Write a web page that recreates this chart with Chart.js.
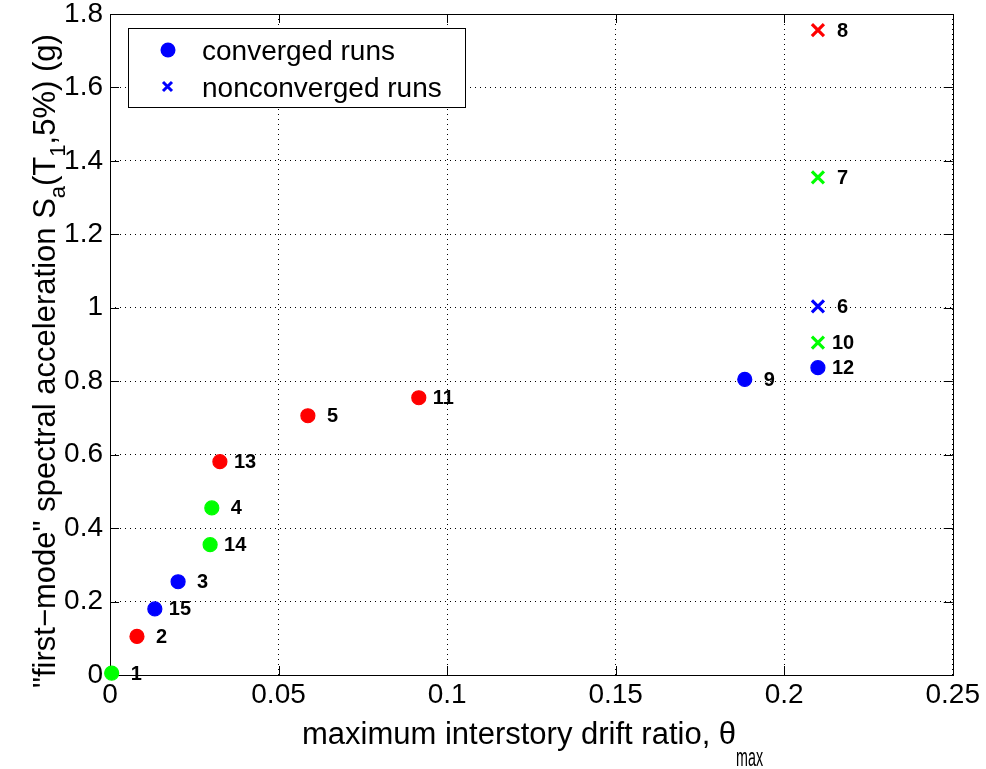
<!DOCTYPE html>
<html>
<head>
<meta charset="utf-8">
<script src="https://cdn.jsdelivr.net/npm/chart.js@4"></script>
<style>
  body { margin: 0; background: #fff; }
  #wrap { width: 986px; height: 769px; position: relative; }
</style>
</head>
<body>
<div id="wrap"><canvas id="c"></canvas></div>
<script>
// run data
const runIds    = [1, 2, 15, 3, 14, 4, 13, 5, 11, 9, 12, 10, 6, 7, 8];
const drift     = [0.0005, 0.008, 0.0133, 0.0202, 0.0297, 0.0302, 0.0326, 0.0587, 0.0916, 0.1883, 0.21, 0.21, 0.21, 0.21, 0.21];
const sa        = [0.005, 0.105, 0.18, 0.254, 0.355, 0.455, 0.581, 0.706, 0.755, 0.805, 0.837, 0.905, 1.004, 1.355, 1.756];
const group     = ["g", "r", "b", "b", "g", "g", "r", "r", "r", "b", "b", "g", "b", "g", "r"];
const converged = [true, true, true, true, true, true, true, true, true, true, true, false, false, false, false];

const xTicks = [0, 0.05, 0.1, 0.15, 0.2, 0.25];
const yTicks = [0, 0.2, 0.4, 0.6, 0.8, 1, 1.2, 1.4, 1.6, 1.8];

const colors = { r: "#ff0000", g: "#00ff00", b: "#0000ff" };
const FONT = "'Liberation Sans', Arial, Helvetica, sans-serif";

// one dataset per colour / marker combination
const datasets = [];
["b", "r", "g"].forEach(g => {
  [true, false].forEach(conv => {
    const pts = [];
    runIds.forEach((id, i) => {
      if (group[i] === g && converged[i] === conv) pts.push({ x: drift[i], y: sa[i], id: id });
    });
    if (!pts.length) return;
    datasets.push({
      data: pts,
      clip: false,
      pointStyle: conv ? "circle" : "crossRot",
      pointRadius: conv ? 7 : 8.5,
      pointHoverRadius: conv ? 7 : 8.5,
      borderWidth: conv ? 1.2 : 3.2,
      backgroundColor: colors[g],
      borderColor: colors[g]
    });
  });
});

// box + inward ticks
const boxPlugin = {
  id: "box",
  beforeDatasetsDraw(chart) {
    const { ctx, chartArea: a, scales } = chart;
    ctx.save();
    ctx.strokeStyle = "#000";
    ctx.lineWidth = 1;
    ctx.beginPath();
    xTicks.forEach(v => {
      const x = Math.round(scales.x.getPixelForValue(v)) + 0.5;
      ctx.moveTo(x, a.bottom); ctx.lineTo(x, a.bottom - 9);
      ctx.moveTo(x, a.top); ctx.lineTo(x, a.top + 9);
    });
    yTicks.forEach(v => {
      const y = Math.round(scales.y.getPixelForValue(v)) + 0.5;
      ctx.moveTo(a.left, y); ctx.lineTo(a.left + 9, y);
      ctx.moveTo(a.right, y); ctx.lineTo(a.right - 9, y);
    });
    ctx.stroke();
    ctx.strokeRect(Math.round(a.left) + 0.5, Math.round(a.top) + 0.5,
                   Math.round(a.right - a.left), Math.round(a.bottom - a.top));
    ctx.restore();
  }
};

// run number next to each marker
const idPlugin = {
  id: "ids",
  afterDatasetsDraw(chart) {
    const ctx = chart.ctx;
    ctx.save();
    ctx.font = "bold 20px " + FONT;
    ctx.fillStyle = "#000";
    ctx.textBaseline = "middle";
    chart.data.datasets.forEach((ds, di) => {
      chart.getDatasetMeta(di).data.forEach((el, i) => {
        const id = String(ds.data[i].id);
        const off = id.length > 1 ? 14 : 19;
        ctx.fillText(id, el.x + off, el.y + 1);
      });
    });
    ctx.restore();
  }
};

// left-aligned run of text pieces; sub pieces are smaller and lowered
function drawParts(ctx, parts, x, y) {
  let cx = x;
  parts.forEach(p => {
    ctx.font = (p.size || (p.sub ? 22 : 31)) + "px " + FONT;
    const w = ctx.measureText(p.t).width;
    const sx = p.w ? p.w / w : 1;
    ctx.save();
    ctx.translate(cx, y + (p.sub ? p.dy : 0));
    ctx.scale(sx, 1);
    ctx.fillText(p.t, 0, 0);
    ctx.restore();
    cx += w * sx;
  });
}

const titlePlugin = {
  id: "titles",
  afterDraw(chart) {
    const ctx = chart.ctx;
    ctx.save();
    ctx.fillStyle = "#000";
    ctx.textBaseline = "alphabetic";
    drawParts(ctx, [
      { t: "maximum interstory drift ratio, \u03b8" },
      { t: "max", sub: true, dy: 22, w: 27, size: 26 }
    ], 302, 744);
    ctx.translate(55, 688);
    ctx.rotate(-Math.PI / 2);
    drawParts(ctx, [
      { t: "\"first\u2212mode\" spectral acceleration S" },
      { t: "a", sub: true, dy: 10 },
      { t: "(T" },
      { t: "1", sub: true, dy: 10 },
      { t: ",5%) (g)" }
    ], 0, 0);
    ctx.restore();
  }
};

const legendPlugin = {
  id: "legendBox",
  afterDraw(chart) {
    const ctx = chart.ctx;
    ctx.save();
    ctx.fillStyle = "#fff";
    ctx.strokeStyle = "#000";
    ctx.lineWidth = 1;
    ctx.fillRect(128.5, 28.5, 337, 79);
    ctx.strokeRect(128.5, 28.5, 337, 79);
    ctx.fillStyle = "#0000ff";
    ctx.beginPath();
    ctx.arc(168, 50, 7.5, 0, Math.PI * 2);
    ctx.fill();
    ctx.strokeStyle = "#0000ff";
    ctx.lineWidth = 3;
    ctx.beginPath();
    ctx.moveTo(163, 82); ctx.lineTo(172, 91);
    ctx.moveTo(172, 82); ctx.lineTo(163, 91);
    ctx.stroke();
    ctx.fillStyle = "#000";
    ctx.font = "28px " + FONT;
    ctx.textBaseline = "alphabetic";
    ctx.fillText("converged runs", 202, 60);
    ctx.fillText("nonconverged runs", 202, 97);
    ctx.restore();
  }
};

new Chart(document.getElementById("c"), {
  type: "scatter",
  data: { datasets: datasets },
  options: {
    responsive: true,
    maintainAspectRatio: false,
    animation: false,
    events: [],
    layout: { autoPadding: false, padding: { top: 14, right: 33, left: 0, bottom: 0 } },
    plugins: { legend: { display: false }, tooltip: { enabled: false } },
    scales: {
      x: {
        type: "linear",
        min: 0, max: 0.25,
        afterFit(s) { s.height = 94; },
        afterBuildTicks(s) { s.ticks = xTicks.map(v => ({ value: v })); },
        ticks: {
          color: "#000",
          padding: 6,
          font: { family: FONT, size: 28, lineHeight: 1 },
          callback: v => String(v)
        },
        grid: { color: "#000", drawTicks: false },
        border: { display: false, dash: [1, 4] }
      },
      y: {
        type: "linear",
        min: 0, max: 1.8,
        afterFit(s) { s.width = 110; },
        afterBuildTicks(s) { s.ticks = yTicks.map(v => ({ value: v })); },
        ticks: {
          color: "#000",
          padding: 7,
          font: { family: FONT, size: 28, lineHeight: 0.5 },
          callback: v => String(v)
        },
        grid: { color: "#000", drawTicks: false },
        border: { display: false, dash: [1, 4] }
      }
    }
  },
  plugins: [boxPlugin, idPlugin, titlePlugin, legendPlugin]
});
</script>
</body>
</html>
